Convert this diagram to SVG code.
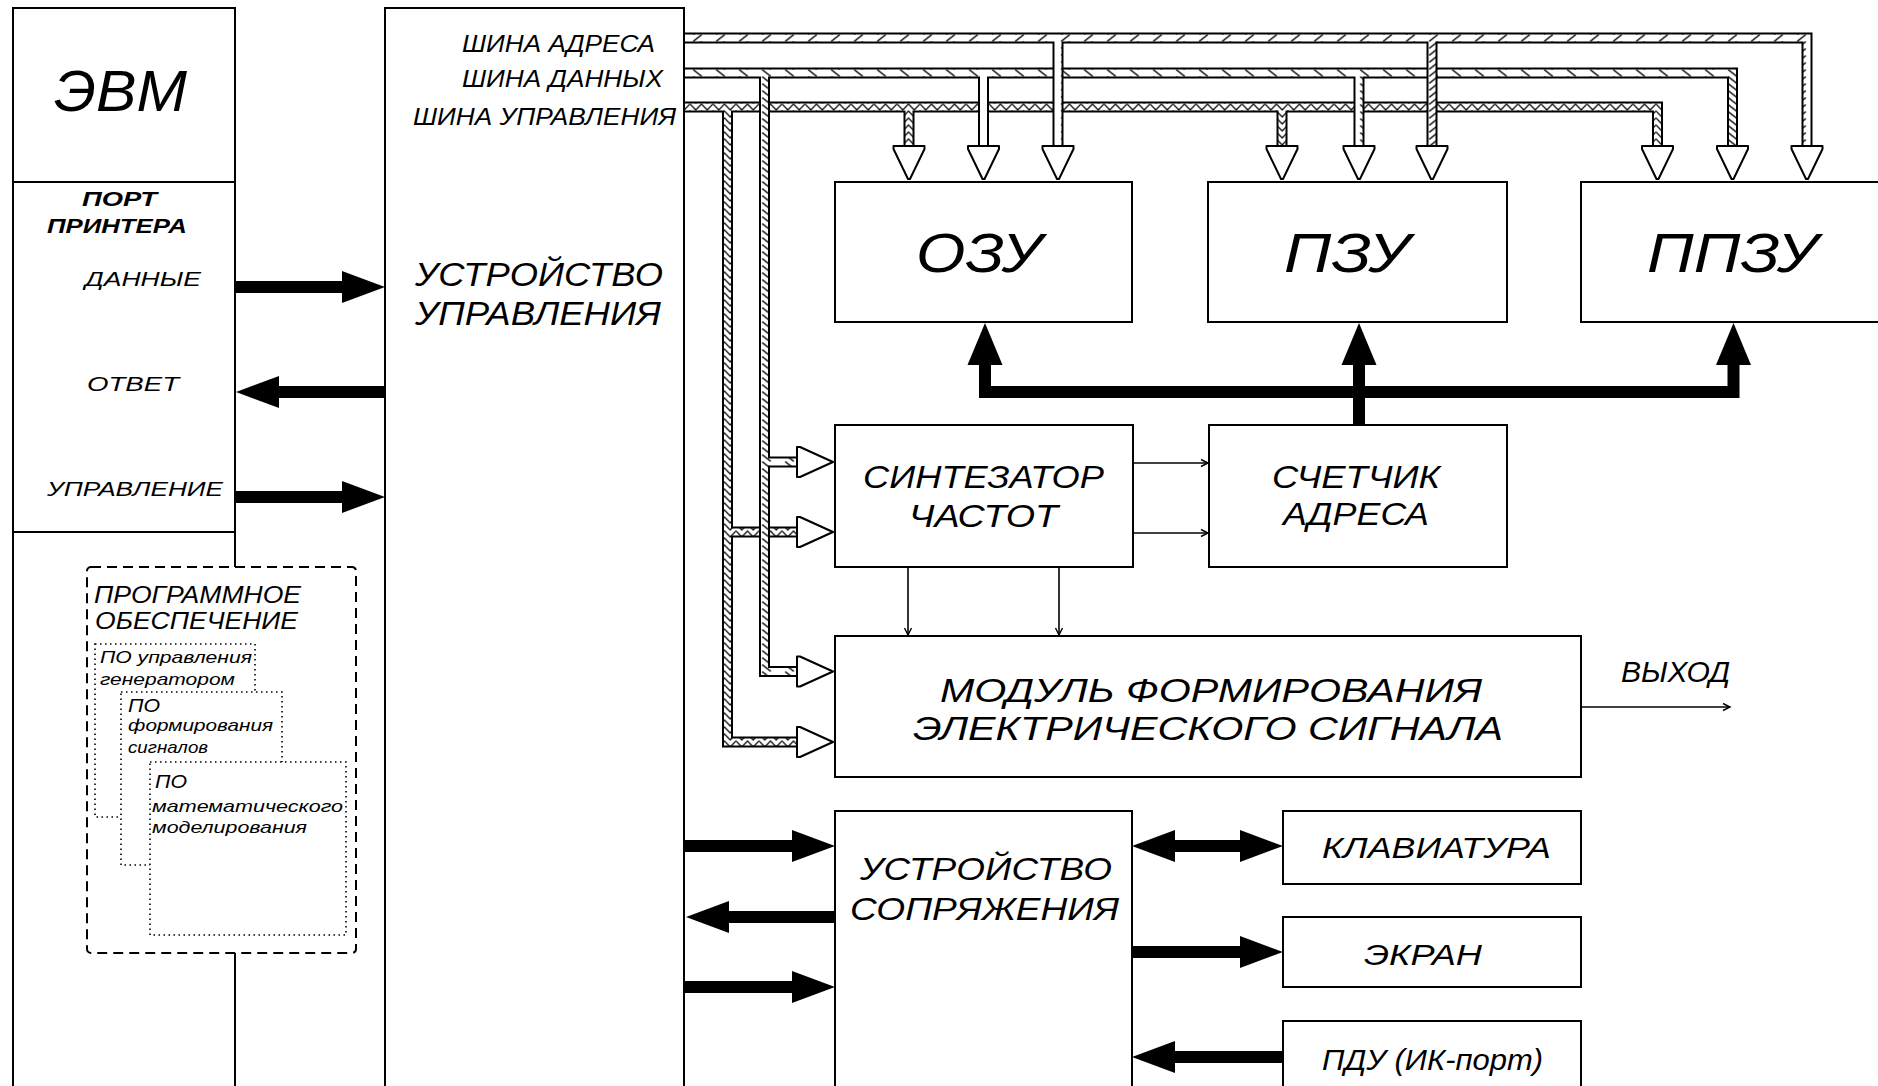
<svg xmlns="http://www.w3.org/2000/svg" width="1878" height="1086" viewBox="0 0 1878 1086">
<style>
.box{fill:#fff;stroke:#000;stroke-width:2}
.t{font-family:"Liberation Sans",Arial,sans-serif;font-style:italic;fill:#000}
.b{font-weight:bold}
.busk{fill:none;stroke:#000;stroke-width:11;stroke-linejoin:miter;stroke-linecap:butt}
.thick{fill:none;stroke:#000;stroke-width:12;stroke-linejoin:miter}
.thin{fill:none;stroke:#000;stroke-width:1.6}
.head{fill:#fff;stroke:#000;stroke-width:2;stroke-linejoin:round}
.dot{fill:#fff;stroke:#000;stroke-width:1.6;stroke-dasharray:1.5 3.5}
</style>
<defs>
<pattern id="hA" patternUnits="userSpaceOnUse" x="0" y="34.5" width="23" height="7"><rect width="23" height="7" fill="#fff"/><path d="M3,7 L12,0" stroke="#000" stroke-width="1.4"/></pattern>
<pattern id="hD" patternUnits="userSpaceOnUse" x="0" y="69.5" width="23" height="7"><rect width="23" height="7" fill="#fff"/><path d="M3,0 L12,7" stroke="#000" stroke-width="1.4"/></pattern>
<pattern id="hC" patternUnits="userSpaceOnUse" x="0" y="103.5" width="23" height="7"><rect width="23" height="7" fill="#fff"/><path d="M0,0.5 L5.75,6.5 L11.5,0.5 L17.25,6.5 L23,0.5" fill="none" stroke="#000" stroke-width="1.2"/></pattern>
<marker id="ah" markerUnits="userSpaceOnUse" markerWidth="44" markerHeight="34" refX="0" refY="16" orient="auto-start-reverse" overflow="visible"><path d="M0,0 L43,16 L0,32 z" fill="#000"/></marker>
<marker id="am" markerUnits="userSpaceOnUse" markerWidth="36" markerHeight="36" refX="0" refY="17.5" orient="auto-start-reverse" overflow="visible"><path d="M0,0 L42,17.5 L0,35 z" fill="#000"/></marker>
<marker id="as" markerUnits="userSpaceOnUse" markerWidth="10" markerHeight="10" refX="7" refY="3.5" orient="auto" overflow="visible"><path d="M0,0 L7,3.5 L0,7" fill="none" stroke="#000" stroke-width="1.4"/></marker>
</defs>
<rect width="1878" height="1086" fill="#fff"/>

<g id="evm">
<path d="M13,1090 V8 H235 V1090" fill="none" stroke="#000" stroke-width="2"/>
<line x1="13" y1="182" x2="235" y2="182" stroke="#000" stroke-width="2"/>
<line x1="13" y1="532" x2="235" y2="532" stroke="#000" stroke-width="2"/>
<text class="t" x="54" y="111" font-size="58" textLength="133" lengthAdjust="spacingAndGlyphs">ЭВМ</text>
<text class="t b" x="82" y="206" font-size="21" textLength="75" lengthAdjust="spacingAndGlyphs">ПОРТ</text>
<text class="t b" x="47" y="233" font-size="21" textLength="140" lengthAdjust="spacingAndGlyphs">ПРИНТЕРА</text>
<text class="t" x="85" y="286" font-size="20" textLength="116" lengthAdjust="spacingAndGlyphs">ДАННЫЕ</text>
<text class="t" x="87" y="391" font-size="20" textLength="92" lengthAdjust="spacingAndGlyphs">ОТВЕТ</text>
<text class="t" x="47" y="496" font-size="20" textLength="176" lengthAdjust="spacingAndGlyphs">УПРАВЛЕНИЕ</text>
</g>

<g id="software">
<rect x="87" y="567" width="269" height="386" rx="4" fill="#fff" stroke="#000" stroke-width="2" stroke-dasharray="10 6"/>
<text class="t" x="94" y="603" font-size="24" textLength="207" lengthAdjust="spacingAndGlyphs">ПРОГРАММНОЕ</text>
<text class="t" x="95" y="629" font-size="24" textLength="203" lengthAdjust="spacingAndGlyphs">ОБЕСПЕЧЕНИЕ</text>
<rect class="dot" x="95" y="644" width="160" height="173"/>
<text class="t" x="100" y="663" font-size="17" textLength="152" lengthAdjust="spacingAndGlyphs">ПО управления</text>
<text class="t" x="100" y="685" font-size="17" textLength="135" lengthAdjust="spacingAndGlyphs">генератором</text>
<rect class="dot" x="121" y="692" width="161" height="173"/>
<text class="t" x="128" y="712" font-size="19" textLength="32" lengthAdjust="spacingAndGlyphs">ПО</text>
<text class="t" x="128" y="731" font-size="17" textLength="145" lengthAdjust="spacingAndGlyphs">формирования</text>
<text class="t" x="128" y="753" font-size="17" textLength="80" lengthAdjust="spacingAndGlyphs">сигналов</text>
<rect class="dot" x="150" y="762" width="196" height="173"/>
<text class="t" x="155" y="788" font-size="19" textLength="32" lengthAdjust="spacingAndGlyphs">ПО</text>
<text class="t" x="152" y="812" font-size="17" textLength="191" lengthAdjust="spacingAndGlyphs">математического</text>
<text class="t" x="152" y="833" font-size="17" textLength="155" lengthAdjust="spacingAndGlyphs">моделирования</text>
</g>

<g id="control-unit">
<path d="M385,1090 V8 H684 V1090" fill="none" stroke="#000" stroke-width="2"/>
<text class="t" x="462" y="52" font-size="24" textLength="193" lengthAdjust="spacingAndGlyphs">ШИНА АДРЕСА</text>
<text class="t" x="462" y="87" font-size="24" textLength="201" lengthAdjust="spacingAndGlyphs">ШИНА ДАННЫХ</text>
<text class="t" x="413" y="125" font-size="24" textLength="263" lengthAdjust="spacingAndGlyphs">ШИНА УПРАВЛЕНИЯ</text>
<text class="t" x="415" y="286" font-size="33" textLength="248" lengthAdjust="spacingAndGlyphs">УСТРОЙСТВО</text>
<text class="t" x="415" y="325" font-size="33" textLength="246" lengthAdjust="spacingAndGlyphs">УПРАВЛЕНИЯ</text>
</g>

<g id="ozu"><rect class="box" x="835" y="182" width="297" height="140"/><text class="t" x="916" y="272" font-size="56" textLength="126" lengthAdjust="spacingAndGlyphs">ОЗУ</text></g>
<g id="pzu"><rect class="box" x="1208" y="182" width="299" height="140"/><text class="t" x="1284" y="272" font-size="56" textLength="126" lengthAdjust="spacingAndGlyphs">ПЗУ</text></g>
<g id="ppzu"><rect class="box" x="1581" y="182" width="310" height="140"/><text class="t" x="1647" y="272" font-size="56" textLength="171" lengthAdjust="spacingAndGlyphs">ППЗУ</text></g>
<g id="synth"><rect class="box" x="835" y="425" width="298" height="142"/>
<text class="t" x="863" y="488" font-size="32" textLength="241" lengthAdjust="spacingAndGlyphs">СИНТЕЗАТОР</text>
<text class="t" x="909" y="527" font-size="32" textLength="149" lengthAdjust="spacingAndGlyphs">ЧАСТОТ</text></g>
<g id="counter"><rect class="box" x="1209" y="425" width="298" height="142"/>
<text class="t" x="1272" y="488" font-size="32" textLength="168" lengthAdjust="spacingAndGlyphs">СЧЕТЧИК</text>
<text class="t" x="1283" y="525" font-size="32" textLength="146" lengthAdjust="spacingAndGlyphs">АДРЕСА</text></g>
<g id="module"><rect class="box" x="835" y="636" width="746" height="141"/>
<text class="t" x="940" y="702" font-size="34" textLength="542" lengthAdjust="spacingAndGlyphs">МОДУЛЬ ФОРМИРОВАНИЯ</text>
<text class="t" x="913" y="740" font-size="34" textLength="590" lengthAdjust="spacingAndGlyphs">ЭЛЕКТРИЧЕСКОГО СИГНАЛА</text></g>
<g id="interface"><rect class="box" x="835" y="811" width="297" height="290"/>
<text class="t" x="860" y="880" font-size="31" textLength="252" lengthAdjust="spacingAndGlyphs">УСТРОЙСТВО</text>
<text class="t" x="850" y="920" font-size="31" textLength="269" lengthAdjust="spacingAndGlyphs">СОПРЯЖЕНИЯ</text></g>
<g id="keyboard"><rect class="box" x="1283" y="811" width="298" height="73"/><text class="t" x="1322" y="858" font-size="30" textLength="229" lengthAdjust="spacingAndGlyphs">КЛАВИАТУРА</text></g>
<g id="screen"><rect class="box" x="1283" y="917" width="298" height="70"/><text class="t" x="1364" y="965" font-size="30" textLength="118" lengthAdjust="spacingAndGlyphs">ЭКРАН</text></g>
<g id="remote"><rect class="box" x="1283" y="1021" width="298" height="90"/><text class="t" x="1322" y="1070" font-size="30" textLength="221" lengthAdjust="spacingAndGlyphs">ПДУ (ИК-порт)</text></g>

<g id="connectors">
<!-- control bus -->
<path class="busk" d="M685,107 H1657.5 V146 M909,107 V146 M1282,107 V146 M727.5,107 V742 H797 M727.5,532 H797"/>
<path fill="none" stroke="url(#hC)" stroke-width="7" stroke-linejoin="miter" d="M685,107 H1657.5 V146 M909,107 V146 M1282,107 V146 M727.5,107 V742 H797 M727.5,532 H797"/>
<!-- data bus -->
<path class="busk" d="M685,73 H1732.5 V146 M983.5,73 V146 M1359,73 V146 M764.5,73 V671.5 H797 M764.5,462 H797"/>
<path fill="none" stroke="url(#hD)" stroke-width="7" stroke-linejoin="miter" d="M685,73 H1732.5 V146 M983.5,73 V146 M1359,73 V146 M764.5,73 V671.5 H797 M764.5,462 H797"/>
<!-- address bus -->
<path class="busk" d="M685,38 H1807 V146 M1058,38 V146 M1432,38 V146"/>
<path fill="none" stroke="url(#hA)" stroke-width="7" stroke-linejoin="miter" d="M685,38 H1807 V146 M1058,38 V146 M1432,38 V146"/>
<!-- bus heads -->
<g class="head">
<polygon points="893.5,146 924.5,146 924.5,149 910,179 908,179 893.5,149"/>
<polygon points="968,146 999,146 999,149 984.5,179 982.5,179 968,149"/>
<polygon points="1042.5,146 1073.5,146 1073.5,149 1059,179 1057,179 1042.5,149"/>
<polygon points="1266.5,146 1297.5,146 1297.5,149 1283,179 1281,179 1266.5,149"/>
<polygon points="1343.5,146 1374.5,146 1374.5,149 1360,179 1358,179 1343.5,149"/>
<polygon points="1416.5,146 1447.5,146 1447.5,149 1433,179 1431,179 1416.5,149"/>
<polygon points="1642,146 1673,146 1673,149 1658.5,179 1656.5,179 1642,149"/>
<polygon points="1717,146 1748,146 1748,149 1733.5,179 1731.5,179 1717,149"/>
<polygon points="1791.5,146 1822.5,146 1822.5,149 1808,179 1806,179 1791.5,149"/>
<polygon points="797,447 800,447 833,462 800,477 797,477"/>
<polygon points="797,517 800,517 833,532 800,547 797,547"/>
<polygon points="797,656.5 800,656.5 833,671.5 800,686.5 797,686.5"/>
<polygon points="797,727 800,727 833,742 800,757 797,757"/>
</g>
<!-- memory address bus from counter -->
<path class="thick" d="M985,365 V392 H1733.5 V365" marker-start="url(#am)" marker-end="url(#am)"/>
<path class="thick" d="M1359,425 V365" marker-end="url(#am)"/>
<!-- printer port arrows -->
<path class="thick" d="M236,287 H342" marker-end="url(#ah)"/>
<path class="thick" d="M384,392 H279" marker-end="url(#ah)"/>
<path class="thick" d="M236,497 H342" marker-end="url(#ah)"/>
<!-- interface arrows -->
<path class="thick" d="M685,846 H792" marker-end="url(#ah)"/>
<path class="thick" d="M834,917 H729" marker-end="url(#ah)"/>
<path class="thick" d="M685,987 H792" marker-end="url(#ah)"/>
<path class="thick" d="M1175,846 H1240" marker-start="url(#ah)" marker-end="url(#ah)"/>
<path class="thick" d="M1133,952 H1240" marker-end="url(#ah)"/>
<path class="thick" d="M1282,1057 H1175" marker-end="url(#ah)"/>
<!-- thin arrows -->
<path class="thin" d="M1133,463 H1208" marker-end="url(#as)"/>
<path class="thin" d="M1133,533 H1208" marker-end="url(#as)"/>
<path class="thin" d="M908,567 V635" marker-end="url(#as)"/>
<path class="thin" d="M1059,567 V635" marker-end="url(#as)"/>
<path class="thin" d="M1581,707 H1730" marker-end="url(#as)"/>
</g>
<text class="t" x="1621" y="682" font-size="30" textLength="109" lengthAdjust="spacingAndGlyphs">ВЫХОД</text>
</svg>
